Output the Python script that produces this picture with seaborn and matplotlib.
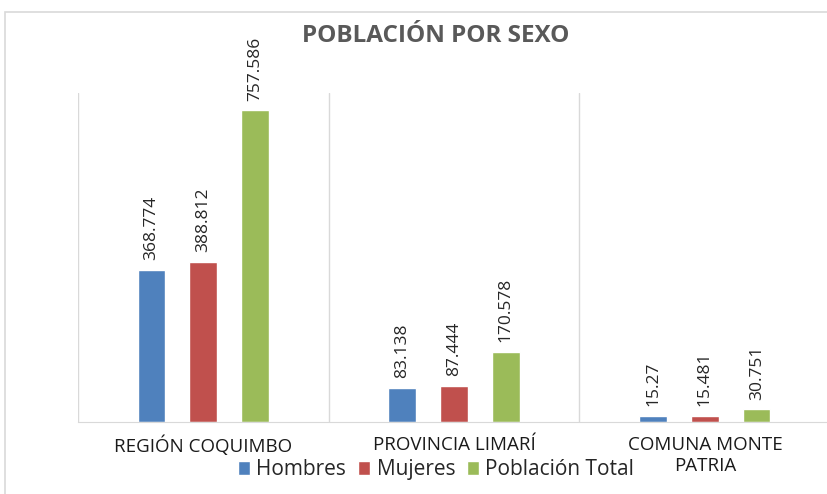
import pandas as pd
import numpy as np
import matplotlib.pyplot as plt
import seaborn as sns
from matplotlib.patches import Rectangle

sns.set_style("white")
plt.rcParams['font.family'] = ['Open Sans', 'DejaVu Sans']

# valores en miles (como en la planilla original)
categorias = ['REGIÓN COQUIMBO', 'PROVINCIA LIMARÍ', 'COMUNA MONTE\nPATRIA']
series = ['Hombres', 'Mujeres', 'Población Total']
hombres = [368.774, 83.138, 15.27]
mujeres = [388.812, 87.444, 15.481]
total = [757.586, 170.578, 30.751]
colores = ['#4F81BD', '#C0504D', '#9BBB59']

df = pd.DataFrame({
    'categoria': categorias * 3,
    'serie': [s for s in series for _ in categorias],
    'valor': hombres + mujeres + total,
})

fig = plt.figure(figsize=(8.27, 4.94), dpi=100)
ax = fig.add_axes([0.094, 0.146, 0.91, 0.666])

sns.barplot(data=df, x='categoria', y='valor', hue='serie', order=categorias,
            hue_order=series, palette=colores, width=0.62, gap=0.47,
            saturation=1, ax=ax, errorbar=None)

for cont in ax.containers:
    ax.bar_label(cont, labels=[f"{v:g}" for v in cont.datavalues],
                 rotation=90, padding=7, fontsize=12.5, color='#262626')

ax.set_ylim(0, 800)
ax.set_xlim(-0.5, 2.5)
ax.set_yticks([])
ax.set_xlabel('')
ax.set_ylabel('')
ax.set_xticks(range(3))
ax.set_xticklabels(categorias, fontsize=13.5, color='#1A1A1A', linespacing=1.2)
ax.tick_params(axis='x', length=0, pad=10)
ax.set_xticks([-0.5, 0.5, 1.5, 2.5], minor=True)
ax.tick_params(axis='x', which='minor', length=0)
ax.grid(True, which='minor', axis='x', color='#D9D9D9', linewidth=1)
ax.set_axisbelow(True)
for s in ['top', 'right', 'left']:
    ax.spines[s].set_visible(False)
ax.spines['bottom'].set_color('#D9D9D9')

ax.legend(loc='center', bbox_to_anchor=(0.476, -0.146), ncol=3,
          frameon=False, fontsize=15, handlelength=0.6, handleheight=0.6,
          handletextpad=0.3, columnspacing=0.55, borderaxespad=0, borderpad=0)

fig.text(0.527, 0.927, 'POBLACIÓN POR SEXO', ha='center', va='center',
         fontsize=17.5, fontweight='bold', color='#595959')

fig.patches.append(Rectangle((0.006, -0.1), 1.1, 1.076, transform=fig.transFigure,
                             fill=False, edgecolor='#D9D9D9', linewidth=1.2))

fig.savefig('out.png', dpi=100)
